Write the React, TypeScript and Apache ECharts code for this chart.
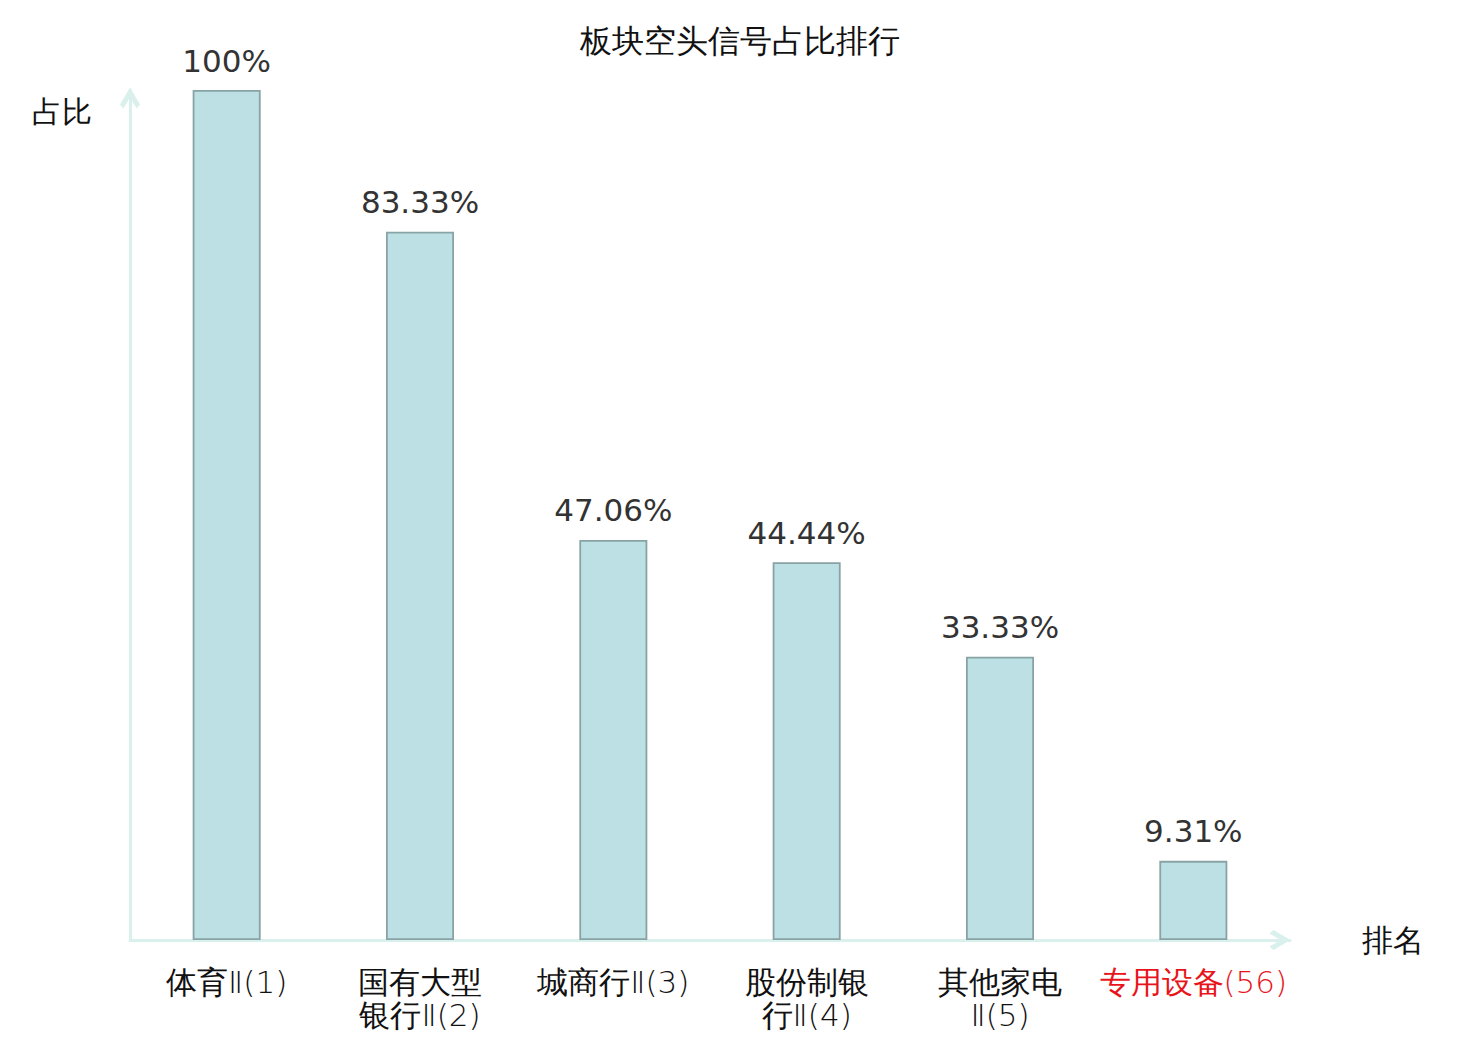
import React, { useEffect, useRef } from "react";
import * as echarts from "echarts";

const titleText = "板块空头信号占比排行";
const categories = [
  "体育Ⅱ(1)",
  "国有大型\n银行Ⅱ(2)",
  "城商行Ⅱ(3)",
  "股份制银\n行Ⅱ(4)",
  "其他家电\nⅡ(5)",
  "专用设备(56)",
];
const highlighted = [false, false, false, false, false, true];
const values = [100, 83.33, 47.06, 44.44, 33.33, 9.31];
const yAxisName = "占比";
const xAxisName = "排名";

const chevron = "path://M10,0 L20,17 L16.6,21 L10,10 L3.4,21 L0,17 Z";

export default function App() {
  const ref = useRef<HTMLDivElement>(null);
  useEffect(() => {
    document.body.style.margin = "0";
    const chart = echarts.init(ref.current!, null, { renderer: "svg" });
    const axisColor = "#d9f0ec";
    chart.setOption({
      animation: false,
      backgroundColor: "#ffffff",
      title: {
        text: titleText,
        left: "center",
        top: 20,
        textStyle: { fontSize: 32, fontWeight: "normal", color: "#111", fontFamily: "DejaVu Sans" },
      },
      grid: { left: 130, right: 190, top: 90, bottom: 100, containLabel: false },
      xAxis: {
        type: "category",
        data: categories.map((c, i) =>
          highlighted[i] ? { value: c, textStyle: { color: "#e8141c" } } : c
        ),
        name: xAxisName,
        nameLocation: "end",
        nameGap: 72,
        nameTextStyle: { fontSize: 31, color: "#111", fontFamily: "DejaVu Sans" },
        axisLine: {
          show: true,
          lineStyle: { color: axisColor, width: 3 },
          symbol: ["none", chevron],
          symbolSize: [21, 21],
          symbolOffset: [0, -10],
        },
        axisTick: { show: false },
        axisLabel: {
          interval: 0,
          margin: 25,
          fontSize: 31,
          lineHeight: 33,
          color: "#111",
          fontFamily: "DejaVu Sans",
          fontWeight: 200,
        },
      },
      yAxis: {
        type: "value",
        min: 0,
        max: 100,
        name: yAxisName,
        nameLocation: "end",
        nameGap: -36,
        nameTextStyle: {
          fontSize: 30,
          color: "#111",
          align: "right",
          verticalAlign: "bottom",
          padding: [0, 38, 0, 0],
          fontFamily: "DejaVu Sans",
        },
        axisLine: {
          show: true,
          lineStyle: { color: axisColor, width: 3 },
          symbol: ["none", chevron],
          symbolSize: [21, 21],
          symbolOffset: [0, -8],
        },
        axisTick: { show: false },
        axisLabel: { show: false },
        splitLine: { show: false },
      },
      series: [
        {
          type: "bar",
          data: values,
          barWidth: 68,
          itemStyle: { color: "#bce0e3", borderColor: "#88a3a5", borderWidth: 1.8 },
          label: {
            show: true,
            position: "top",
            distance: 14,
            formatter: "{c}%",
            fontSize: 31,
            color: "#333",
            fontFamily: "DejaVu Sans",
          },
        },
      ],
    });
    return () => chart.dispose();
  }, []);
  return <div ref={ref} style={{ width: 1480, height: 1040 }} />;
}
